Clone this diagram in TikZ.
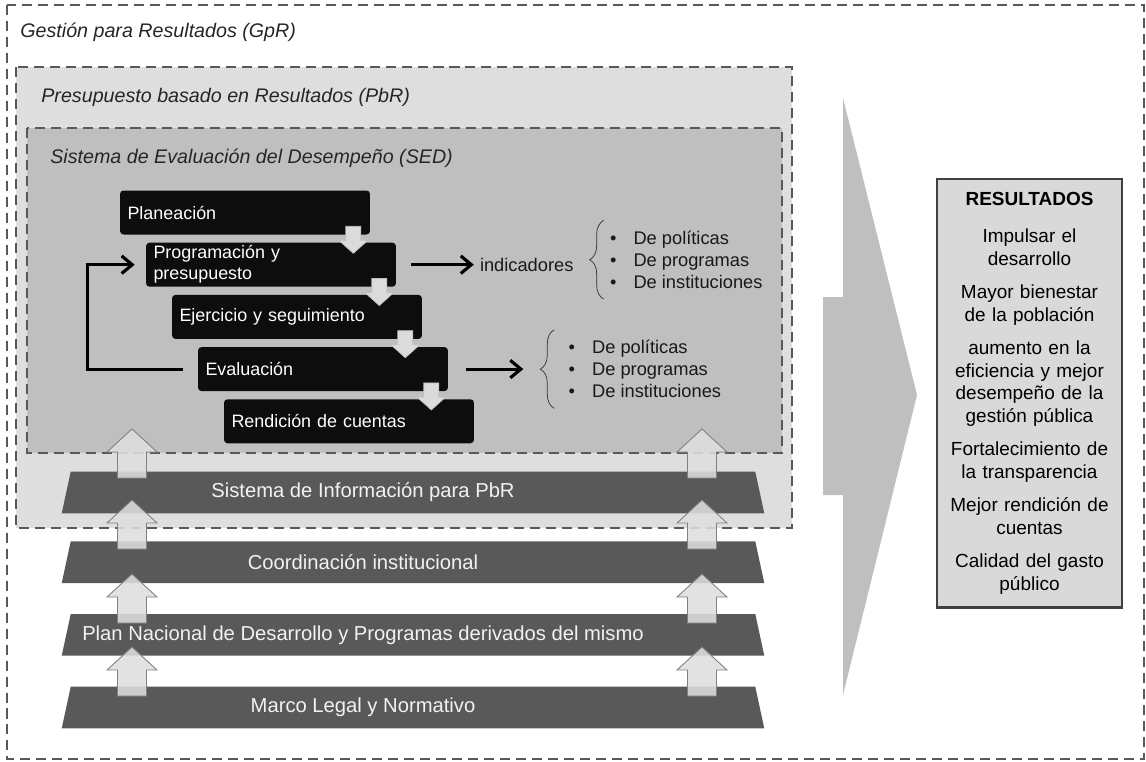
\documentclass[tikz,border=0pt]{standalone}
\usepackage{fontspec}
\setmainfont{Liberation Sans}
\usepackage{tikz}
\usetikzlibrary{arrows.meta}
\usetikzlibrary{calc}
\usetikzlibrary{decorations.pathreplacing}
\usetikzlibrary{positioning}

\tikzset{
	uparrow/.pic	= {\path [upblock] (0,0) -- (25,23) -- (14.5,23) -- (14.5,49) -- (-14.5,49) -- (-14.5,23) -- (-25,23) -- cycle;},
	downarrow/.pic	= {\path [downblock] (0,0) -- (14.5,-13) -- (7.5,-13) -- (7.5,-27) -- (-7.5,-27) -- (-7.5,-13) -- (-14.5,-13) -- cycle;},
}

\begin{document}
\begin{tikzpicture}
[
	x = 0.02cm, y = -0.02cm,
	frame/.style	= {draw = black!65, line width = 1.1pt, dash pattern = on 5.7pt off 3.4pt},
	title/.style	= {anchor = west, inner sep = 0cm, font = \fontsize{11.2}{13.4}\selectfont\itshape, text = black!85},
	stage/.style	= {rectangle, rounded corners = 0.07cm, fill = black!95, text = white, minimum height = 0.88cm, text width = 4.7cm, inner xsep = 0.15cm, inner ysep = 0cm, align = left, font = \fontsize{10.2}{12}\selectfont},
	bar/.style	= {rectangle, minimum width = 14.04cm, minimum height = 0.82cm, inner sep = 0cm},
	barfill/.style	= {fill = black!65},
	bartext/.style	= {text = black!5, font = \fontsize{11.5}{13}\selectfont},
	comment/.style	= {font = \fontsize{10.4}{12.6}\selectfont, text = black!90},
	list/.style	= {comment, align = left, inner xsep = 0cm, inner ysep = 0.2cm},
	brace/.style	= {decorate, decoration = {brace, amplitude = 0.28cm}, draw = black!80, thin},
	flow/.style	= {-{Straight Barb[length = 6pt, width = 10pt]}, line width = 1.8pt},
	upblock/.style	= {fill = black!13, fill opacity = 0.88, draw = black!50, line width = 0.5pt},
	downblock/.style	= {fill = black!14, draw = black!25, line width = 0.4pt},
	result/.style	= {draw = black!75, line width = 1.2pt, fill = black!15, text width = 3.5cm, minimum width = 3.7cm, inner xsep = 0.1cm, inner ysep = 7.6pt, align = center, font = \fontsize{10.8}{12.8}\selectfont},
]

	\useasboundingbox (0,0) rectangle (1146,761);

	% frames
	\draw [frame] (7,5) rectangle (1144,759);
	\draw [frame, fill = black!13] (16,67) rectangle (792,528);
	\draw [frame, fill = black!25] (27,128) rectangle (782,453);
	%
	\node (gpr) [title] at (20,32) {Gestión para Resultados (GpR)};
	\node (pbr) [title] at (41,97) {Presupuesto basado en Resultados (PbR)};
	\node (sed) [title] at (50,158) {Sistema de Evaluación del Desempeño (SED)};

	% stages
	\node (plan) [stage] at (245,212.5) {Planeación};
	\node (prog) [stage, below = 0.15cm of plan, xshift = 0.52cm] {Programación y\\presupuesto};
	\node (ejer) [stage, below = 0.15cm of prog, xshift = 0.52cm] {Ejercicio y seguimiento};
	\node (eval) [stage, below = 0.15cm of ejer, xshift = 0.52cm] {Evaluación};
	\node (rend) [stage, below = 0.15cm of eval, xshift = 0.52cm] {Rendición de cuentas};

	\foreach \a/\b in {plan/prog, prog/ejer, ejer/eval, eval/rend}
		\pic at ($(\a.east |- \b.north) + (-17,11)$) {downarrow};

	\draw [flow] ([xshift = -0.3cm]eval.west) -- ++(-95,0) |- ([xshift = -0.22cm]prog.west);

	% indicadores
	\node (ind) [comment, right = 1.55cm of prog] {indicadores};
	\node (list1) [list, right = 0.6cm of ind, yshift = 0.1cm] {\makebox[0.47cm][l]{\textbullet}De políticas\\\makebox[0.47cm][l]{\textbullet}De programas\\\makebox[0.47cm][l]{\textbullet}De instituciones};
	\node (list2) [list, right = 2.4cm of eval] {\makebox[0.47cm][l]{\textbullet}De políticas\\\makebox[0.47cm][l]{\textbullet}De programas\\\makebox[0.47cm][l]{\textbullet}De instituciones};

	\draw [flow] ([xshift = 0.3cm]prog.east) -- (ind);
	\draw [flow] ([xshift = 0.36cm]eval.east) -- ([xshift = -0.9cm]list2.west);
	\draw [brace] ([xshift = -0.12cm]list1.south west) -- ([xshift = -0.12cm]list1.north west);
	\draw [brace] ([xshift = -0.28cm]list2.south west) -- ([xshift = -0.28cm]list2.north west);

	% base layers
	\node (sist) [bar] at (413,492.5) {};
	\node (coord) [bar, below = 0.56cm of sist] {};
	\node (pnd) [bar, below = 0.62cm of coord] {};
	\node (marco) [bar, below = 0.62cm of pnd] {};
	%
	\foreach \n in {sist, coord, pnd, marco}
		\fill [barfill] (\n.south west) -- ([xshift = 0.18cm]\n.north west) -- ([xshift = -0.18cm]\n.north east) -- (\n.south east) -- cycle;
	%
	\node (sistlabel) [bartext, xshift = -1.0cm] at (sist) {Sistema de Información para PbR};
	\node (coordlabel) [bartext, xshift = -1.0cm] at (coord) {Coordinación institucional};
	\node (pndlabel) [bartext, xshift = -1.0cm] at (pnd) {Plan Nacional de Desarrollo y Programas derivados del mismo};
	\node (marcolabel) [bartext, xshift = -1.0cm] at (marco) {Marco Legal y Normativo};

	\foreach \x in {132, 702}
	{
		\pic at (\x,429) {uparrow};
		\pic at (\x,500) {uparrow};
		\pic at (\x,574) {uparrow};
		\pic at (\x,647) {uparrow};
	}

	% results
	\fill [black!25] (843,98) -- (917,395) -- (843,695) -- (843,495) -- (823,495) -- (823,297) -- (843,297) -- cycle;
	\node (res) [result, anchor = north] at (1029.5,178) {{\bfseries RESULTADOS}\\[8.2pt]
		Impulsar el\\desarrollo\\[6.3pt]
		Mayor bienestar\\de la población\\[6.3pt]
		aumento en la\\eficiencia y mejor\\desempeño de la\\gestión pública\\[6.3pt]
		Fortalecimiento de\\la transparencia\\[6.3pt]
		Mejor rendición de\\cuentas\\[6.3pt]
		Calidad del gasto\\público};

\end{tikzpicture}
\end{document}
